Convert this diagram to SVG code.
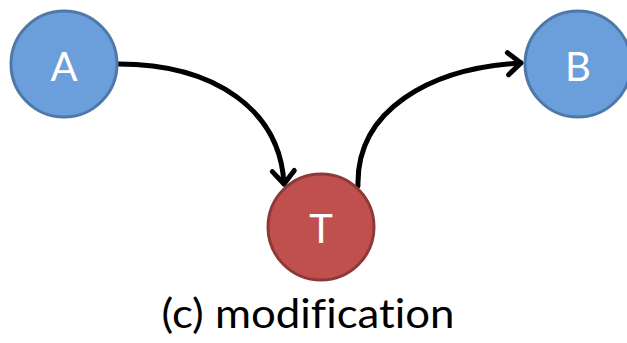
<svg xmlns="http://www.w3.org/2000/svg" width="627" height="343" viewBox="0 0 627 343">
  <style>
    .blue { fill: #6a9fdc; stroke: #4e78a8; stroke-width: 3; }
    .red { fill: #c0504d; stroke: #8b3a38; stroke-width: 3; }
    .lbl { font-family: Lato, "Open Sans", sans-serif; font-size: 40px; fill: #ffffff; text-anchor: middle; }
    .edge { fill: none; stroke: #000000; stroke-width: 5; stroke-linecap: round; stroke-linejoin: round; }
    .cap { font-family: Lato, "Open Sans", sans-serif; font-size: 40px; fill: #000000; text-anchor: middle; font-variant-ligatures: none; }
  </style>
  <defs>
    <marker id="chev" viewBox="0 0 12 12" refX="10" refY="6" markerWidth="12" markerHeight="12" markerUnits="userSpaceOnUse" orient="auto" overflow="visible">
      <path d="M-3,-5 L10,6 L-3,17" fill="none" stroke="#000" stroke-width="5" stroke-linecap="round" stroke-linejoin="round"/>
    </marker>
  </defs>
  <rect width="627" height="343" fill="#ffffff"/>
  <g id="connectors">
    <path class="edge" d="M118,64 C215,64 280,110 284,184" marker-end="url(#chev)"/>
    <path class="edge" d="M358,186 C356,110 430,68 521,63" marker-end="url(#chev)"/>
  </g>
  <g id="node-A">
    <circle class="blue" cx="64" cy="64" r="53"/>
    <text class="lbl" x="64" y="81">A</text>
  </g>
  <g id="node-B">
    <circle class="blue" cx="578" cy="64" r="53"/>
    <text class="lbl" x="578" y="81">B</text>
  </g>
  <g id="node-T">
    <circle class="red" cx="321" cy="227" r="53"/>
    <text class="lbl" x="321" y="243">T</text>
  </g>
  <text class="cap" x="308" y="328" textLength="293" lengthAdjust="spacingAndGlyphs">(c) modification</text>
</svg>
